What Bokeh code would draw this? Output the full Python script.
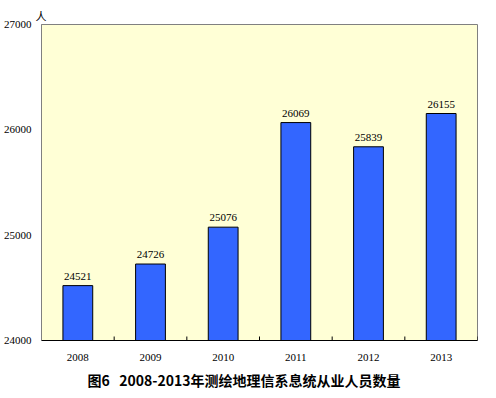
import math
from bokeh.plotting import figure
from bokeh.models import ColumnDataSource, Range1d, Title, FixedTicker, LabelSet
from bokeh.transform import dodge
from bokeh.embed import file_html
from bokeh.resources import INLINE

years = ["2008", "2009", "2010", "2011", "2012", "2013"]
staff = [24521, 24726, 25076, 26069, 25839, 26155]
y_ticks = [24000, 25000, 26000, 27000]
unit = "人"
title_text = "图6\u00a0\u00a0\u00a02008-2013年测绘地理信系息统从业人员数量"

src = ColumnDataSource(dict(years=years, staff=staff, lbl=[str(v) for v in staff],
                            base=[y_ticks[0]] * len(years)))

p = figure(x_range=years, y_range=Range1d(y_ticks[0], y_ticks[-1]),
           width=480, height=394, output_backend="svg", toolbar_location=None,
           min_border_left=33, min_border_right=3, min_border_top=24, min_border_bottom=10,
           background_fill_color="white", border_fill_color="white")
p.x_range.range_padding = 0
p.background_fill_color = "#FFFFD6"
p.outline_line_color = "#808080"
p.grid.visible = False

p.vbar(x="years", top="staff", bottom="base", width=0.41, source=src,
       fill_color="#3366FF", line_color="black", line_width=1)

# boundary ticks on x axis
p.ray(x=dodge("years", 0.5, range=p.x_range), y="base", source=src,
      length=4, length_units="screen", angle=math.pi / 2, line_color="black", line_width=1)

p.add_layout(LabelSet(x="years", y="staff", text="lbl", source=src, text_align="center",
                      text_baseline="bottom", y_offset=6, text_font="Liberation Serif",
                      text_font_size="11px", text_color="black"))

p.yaxis.ticker = FixedTicker(ticks=y_ticks)
p.yaxis.axis_line_color = "#808080"
p.yaxis.major_tick_line_color = None
p.yaxis.minor_tick_line_color = None
p.yaxis.major_label_standoff = 4
p.yaxis.major_label_text_font = "Liberation Serif"
p.yaxis.major_label_text_font_size = "11px"
p.yaxis.major_label_text_color = "black"

p.xaxis.axis_line_color = "black"
p.xaxis.major_tick_line_color = None
p.xaxis.major_label_standoff = 7
p.xaxis.major_label_text_font = "Liberation Serif"
p.xaxis.major_label_text_font_size = "11px"
p.xaxis.major_label_text_color = "black"

p.add_layout(Title(text=unit, align="left", offset=-6, text_font="Noto Sans CJK SC",
                   text_font_size="11px", text_font_style="normal", text_color="black",
                   standoff=2), "above")

p.add_layout(Title(text=title_text, align="left", offset=46, text_font="Noto Sans CJK SC",
                   text_font_size="14px", text_font_style="bold", text_color="black",
                   standoff=9), "below")

open("out.html", "w").write(file_html(p, INLINE))
